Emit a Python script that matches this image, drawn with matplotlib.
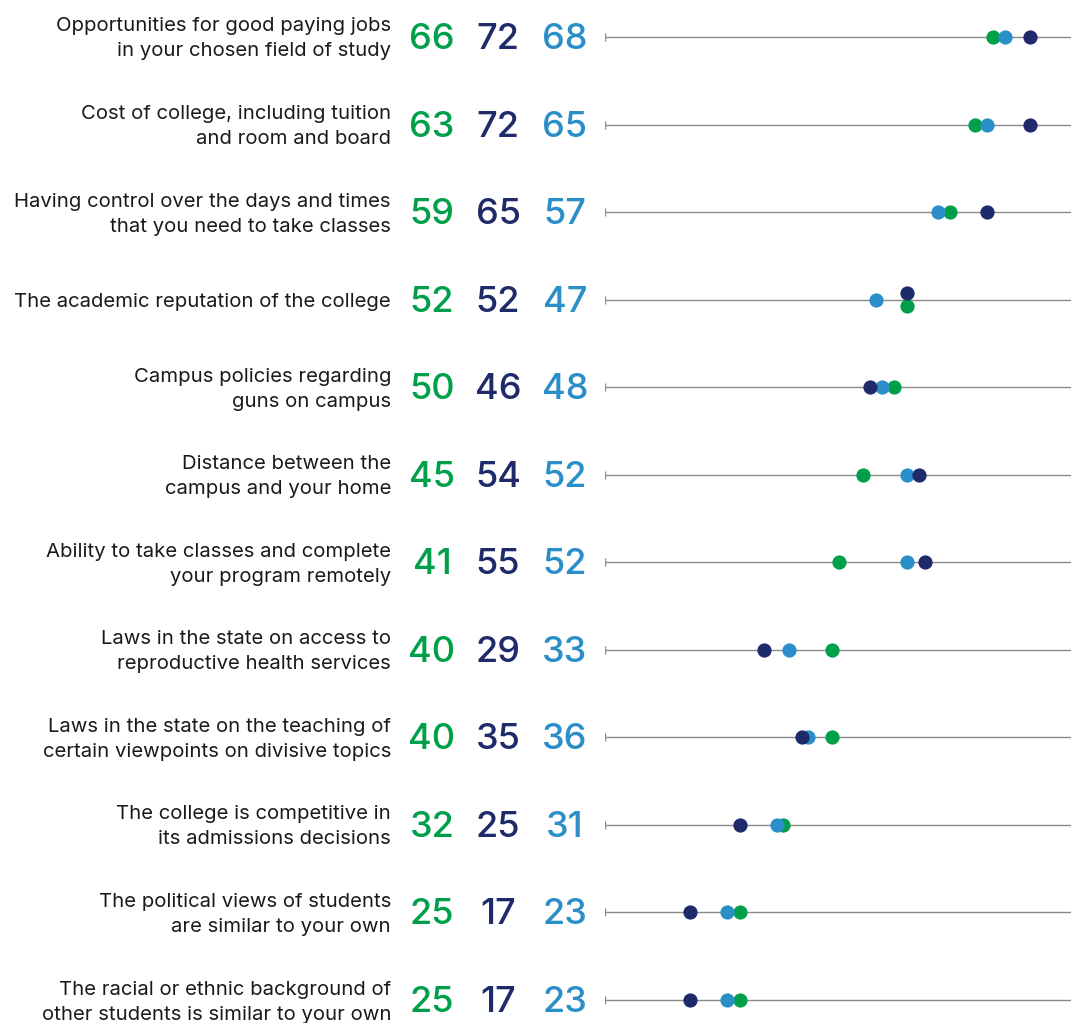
import matplotlib
matplotlib.use("Agg")
import matplotlib.pyplot as plt
from matplotlib.transforms import blended_transform_factory, offset_copy

# Factors and shares (%) for the three groups
labels = [
    "Opportunities for good paying jobs\nin your chosen field of study",
    "Cost of college, including tuition\nand room and board",
    "Having control over the days and times\nthat you need to take classes",
    "The academic reputation of the college",
    "Campus policies regarding\nguns on campus",
    "Distance between the\ncampus and your home",
    "Ability to take classes and complete\nyour program remotely",
    "Laws in the state on access to\nreproductive health services",
    "Laws in the state on the teaching of\ncertain viewpoints on divisive topics",
    "The college is competitive in\nits admissions decisions",
    "The political views of students\nare similar to your own",
    "The racial or ethnic background of\nother students is similar to your own",
]
green_vals = [66, 63, 59, 52, 50, 45, 41, 40, 40, 32, 25, 25]
navy_vals = [72, 72, 65, 52, 46, 54, 55, 29, 35, 25, 17, 17]
blue_vals = [68, 65, 57, 47, 48, 52, 52, 33, 36, 31, 23, 23]

GREEN = "#00a04b"
NAVY = "#1f2a6b"
BLUE = "#2a8fc8"

plt.rcParams['font.family'] = ['Inter', 'DejaVu Sans']

W, H = 1071, 1023
fig = plt.figure(figsize=(W / 100, H / 100), dpi=100)
ax = fig.add_axes([605 / W, 0, 1 - 605 / W, 1])

n = len(labels)
step = (1000 - 37) / (n - 1)
ax.set_ylim(n - 1 + (H - 1000) / step, -37 / step)
ax.set_xlim(3.2, 78.6)
ax.axis("off")

trans = blended_transform_factory(fig.transFigure, ax.transData)
# numbers sit on a baseline ~12 px below the row centre
num_trans = offset_copy(trans, fig=fig, x=0, y=-12, units="dots")
lab_trans = offset_copy(trans, fig=fig, x=0, y=-2, units="dots")

for i in range(n):
    ax.plot([3.2, 78.6], [i, i], color="#8a8a8a", lw=1, zorder=1, solid_capstyle="butt")
    ax.plot([3.2], [i], marker="|", color="#8a8a8a", ms=6, mew=1, zorder=1)

    g_off = n_off = 0
    if green_vals[i] == navy_vals[i]:
        g_off, n_off = 0.075, -0.075
    ax.scatter(green_vals[i], i + g_off, s=105, color=GREEN, zorder=3, lw=0)
    ax.scatter(blue_vals[i], i, s=105, color=BLUE, zorder=4, lw=0)
    ax.scatter(navy_vals[i], i + n_off, s=105, color=NAVY, zorder=5, lw=0)

    ax.text(391 / W, i, labels[i], transform=lab_trans, ha="right", va="center",
            fontsize=14.6, color="#1a1a1a", linespacing=1.5, clip_on=False)
    for x, v, c in [(432, green_vals[i], GREEN), (498, navy_vals[i], NAVY),
                    (565, blue_vals[i], BLUE)]:
        ax.text(x / W, i, str(v), transform=num_trans, ha="center", va="baseline",
                fontsize=26, color=c, fontweight="medium", clip_on=False)

fig.savefig("out.png", dpi=100, facecolor="white")
